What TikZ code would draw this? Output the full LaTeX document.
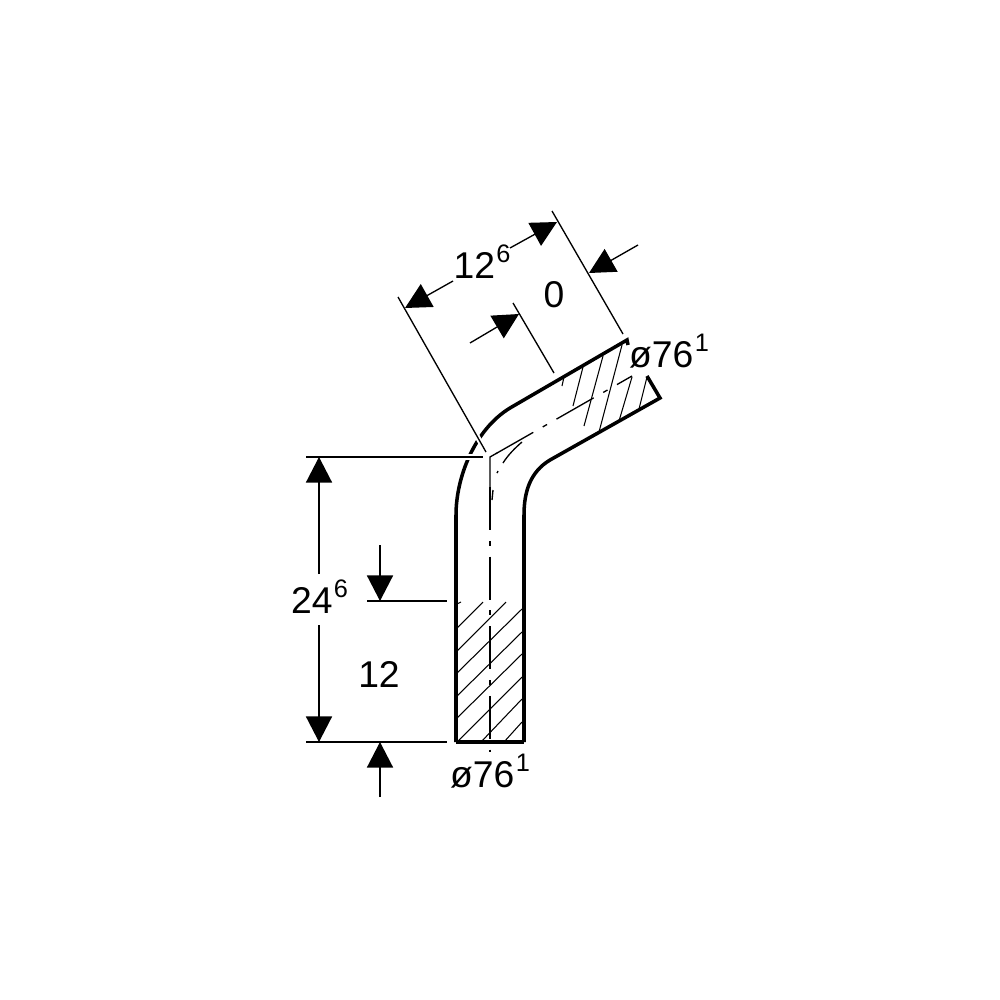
\documentclass[tikz,border=0pt]{standalone}
\usepackage{fontspec}
\setmainfont{Liberation Sans}
\usetikzlibrary{arrows.meta}

\newcommand{\supnum}[1]{\kern0.4pt\raisebox{4.4pt}{\fontsize{7.2}{8}\selectfont #1}}

\tikzset{
    outline/.style={line width=1pt, line join=miter},
    thinline/.style={line width=0.38pt},
    hatch/.style={line width=0.3pt},
    chain/.style={line width=0.38pt, dash pattern=on 12.2pt off 3.1pt on 1.4pt off 3.1pt},
    extline/.style={thinline, preaction={draw, white, line width=1.5pt}},
    dimarrow/.style={thinline, -{Triangle[length=2.55mm, width=2.6mm]}},
    dimlabel/.style={inner sep=0pt, anchor=base, font=\fontsize{10.6}{12}\selectfont}
}

\begin{document}
\begin{tikzpicture}[x=0.01cm, y=-0.01cm]
        \useasboundingbox (0,0) rectangle (1000,1000);

        % Pipe outline
        \draw[outline] (456,742) -- (456,515) .. controls (456,478) and (474,430) .. (510,408)
            -- (627,340) -- (628,345);
        \draw[outline] (524,742) -- (524,515) .. controls (524,492) and (530,472) .. (550,460)
            -- (660,398) -- (647,376);
        \draw[outline] (456,742) -- (524,742);

        % Hatching, lower part
        \foreach \xa/\ya/\xb/\yb in {457/604/461/602, 457/628/483/602, 457/651/506/602, 457/673/522/609,
            457/696/522/632, 457/718/522/654, 457/742/522/677, 481/742/522/699, 504/742/522/722} {
            \draw[hatch] (\xa,\ya) -- (\xb,\yb);
        }

        % Hatching, upper part
        \foreach \xa/\ya/\xb/\yb in {564/377/562/386, 583/367/573/406, 603/356/584/426,
            622/345/599/432, 632/377/619/421, 647/377/639/409} {
            \draw[hatch] (\xa,\ya) -- (\xb,\yb);
        }

        % Extension lines
        \draw[extline] (306,457) -- (483,457);
        \draw[extline] (398,297) -- (486,452);
        \draw[thinline] (306,742) -- (447,742);
        \draw[thinline] (367,601) -- (447,601);
        \draw[thinline] (513,303) -- (554,373);
        \draw[thinline] (552,211) -- (623,334);

        % Centre lines
        \draw[thinline] (490,487) -- (490,457) -- (497,453);
        \draw[chain] (490,487) -- (490,752);
        \draw[chain] (496,453.6) -- (632,376);
        \draw[thinline] (492,500) -- (493,490);
        \draw[thinline] (497,473) -- (498,471);
        \draw[thinline] (503,463) .. controls (508,455) and (515,448) .. (522,442);

        % Labels
        \node[dimlabel] (lbl246) at (319.5,613) {24\supnum{6}};
        \node[dimlabel] (lbl12) at (379,687) {12};
        \node[dimlabel] (lbl126) at (482,278) {12\supnum{6}};
        \node[dimlabel] (lbl0) at (554,307) {0};
        \node[dimlabel] (lbldia) at (669,367) {ø76\supnum{1}};
        \node[dimlabel] (lbldib) at (490,787) {ø76\supnum{1}};

        % Free ends and tips of the dimension arrows
        \coordinate (vtop) at (319,574);
        \coordinate (vbot) at (319,625);
        \coordinate (tipa) at (453,281);
        \coordinate (tipb) at (510,248);
        \draw[dimarrow] (vtop) -- (319,457);
        \draw[dimarrow] (vbot) -- (319,742);
        \draw[dimarrow] (380,545) -- (380,601);
        \draw[dimarrow] (380,797) -- (380,742);
        \draw[dimarrow] (tipa) -- (405,308);
        \draw[dimarrow] (tipb) -- (557,222);
        \draw[dimarrow] (470,343) -- (519,314);
        \draw[dimarrow] (638,245) -- (589,273);
    \end{tikzpicture}
\end{document}
